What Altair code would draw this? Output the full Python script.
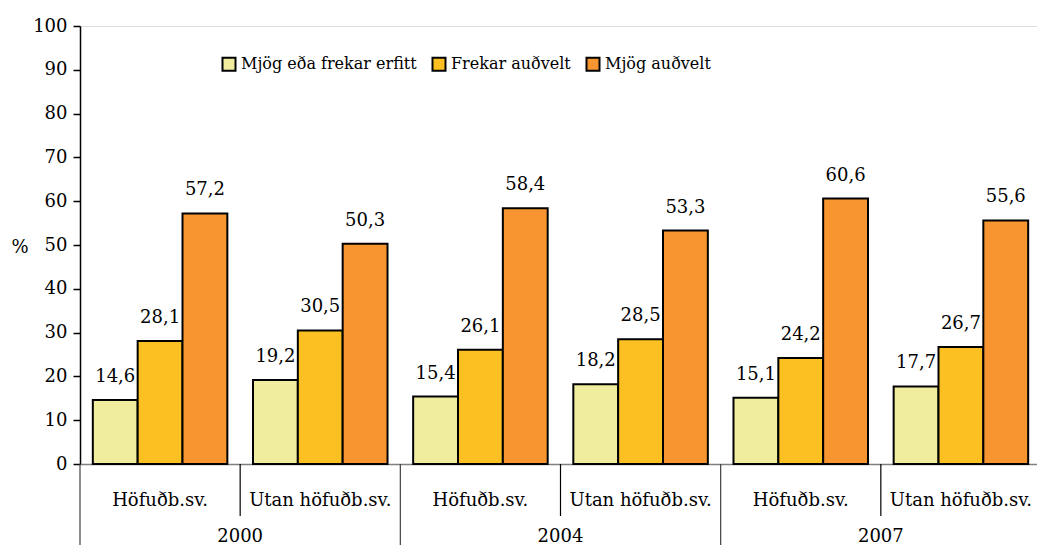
import altair as alt
import pandas as pd

years = ["2000", "2000", "2004", "2004", "2007", "2007"]
regions = ["Höfuðb.sv.", "Utan höfuðb.sv.", "Höfuðb.sv.", "Utan höfuðb.sv.", "Höfuðb.sv.", "Utan höfuðb.sv."]
series_names = ["Mjög eða frekar erfitt", "Frekar auðvelt", "Mjög auðvelt"]
s_erfitt = [14.6, 19.2, 15.4, 18.2, 15.1, 17.7]
s_frekar = [28.1, 30.5, 26.1, 28.5, 24.2, 26.7]
s_mjog = [57.2, 50.3, 58.4, 53.3, 60.6, 55.6]
colors = ["#F0EE9E", "#FDC022", "#F79630"]

keys = [f"{y}|{r}" for y, r in zip(years, regions)]
rows = []
for vals, name in zip([s_erfitt, s_frekar, s_mjog], series_names):
    for k, v in zip(keys, vals):
        rows.append({"key": k, "series": name, "value": v,
                     "label": f"{v:.1f}".replace(".", ",")})
df = pd.DataFrame(rows)

W, H = 961, 438
BOTTOM = 81
FONT = "DejaVu Serif"
FS = 18

xscale = alt.Scale(domain=keys, paddingInner=0, paddingOuter=0)
xoff = alt.Scale(domain=series_names, paddingInner=0, paddingOuter=0.286)

base = alt.Chart(df)

bars = base.mark_bar(stroke="black", strokeWidth=2).encode(
    x=alt.X("key:N", scale=xscale, sort=keys,
            axis=alt.Axis(title=None, ticks=False, labelAngle=0, labelPadding=27,
                          labelFontSize=18, labelFont=FONT, labelColor="black",
                          domainColor="#808080", domainWidth=1.5, labelLimit=300,
                          labelExpr="split(datum.label, '|')[1]")),
    xOffset=alt.XOffset("series:N", scale=xoff, sort=series_names),
    y=alt.Y("value:Q", scale=alt.Scale(domain=[0, 100], nice=False),
            axis=alt.Axis(values=list(range(0, 101, 10)), grid=False,
                          title="%", titleAngle=0, titleX=-69, titleY=221,
                          titleAlign="left", titleBaseline="middle",
                          titleFont=FONT, titleFontSize=FS, titleFontWeight="normal",
                          titleColor="black",
                          labelFont=FONT, labelFontSize=FS, labelColor="black",
                          labelPadding=6, tickSize=7, tickColor="black",
                          domainColor="black", domainWidth=1.5, tickWidth=1.5)),
    color=alt.Color("series:N", sort=series_names,
                    scale=alt.Scale(domain=series_names, range=colors),
                    legend=alt.Legend(title=None, orient="none", direction="horizontal",
                                      legendX=141, legendY=30,
                                      symbolType="square", symbolSize=169,
                                      symbolStrokeColor="black", symbolStrokeWidth=2,
                                      symbolOpacity=1, labelLimit=400,
                                      labelFont=FONT, labelFontSize=16, labelColor="black",
                                      columnPadding=11, labelOffset=4)),
)

texts = base.mark_text(font=FONT, fontSize=FS, color="black", dy=-18,
                       baseline="alphabetic").encode(
    x=alt.X("key:N", scale=xscale, sort=keys),
    xOffset=alt.XOffset("series:N", scale=xoff, sort=series_names),
    y=alt.Y("value:Q"),
    text="label:N",
)

utan_keys = [k for k in keys if k.endswith("Utan höfuðb.sv.")]
year_start_keys = [k for k in keys if k.endswith("|Höfuðb.sv.")]
sep_inner = alt.Chart(pd.DataFrame({"key": utan_keys})).mark_rule(color="black", strokeWidth=1.2).encode(
    x=alt.X("key:N", scale=xscale, sort=keys, bandPosition=0),
    y=alt.value(H), y2=alt.value(H + 52))
sep_year = alt.Chart(pd.DataFrame({"key": year_start_keys[1:]})).mark_rule(color="#404040", strokeWidth=1.2).encode(
    x=alt.X("key:N", scale=xscale, sort=keys, bandPosition=0),
    y=alt.value(H), y2=alt.value(H + BOTTOM))
sep_left = alt.Chart(pd.DataFrame({"a": [0]})).mark_rule(color="#404040", strokeWidth=1.2).encode(
    x=alt.value(0), y=alt.value(H), y2=alt.value(H + BOTTOM))

year_labels = alt.Chart(pd.DataFrame({"key": utan_keys, "year": years[::2]})).mark_text(
    font=FONT, fontSize=FS, color="black", baseline="middle").encode(
    x=alt.X("key:N", scale=xscale, sort=keys, bandPosition=0),
    y=alt.value(H + 73),
    text="year:N")

chart = alt.layer(bars, texts, sep_inner, sep_year, sep_left, year_labels).properties(
    width=W, height=H,
    autosize=alt.AutoSizeParams(type="none"),
    padding={"left": 72, "top": 18, "right": -4, "bottom": BOTTOM},
).configure_view(stroke="transparent", strokeWidth=0).configure(background="white")

chart.save("out.html", embed_options={"renderer": "svg", "actions": False})
